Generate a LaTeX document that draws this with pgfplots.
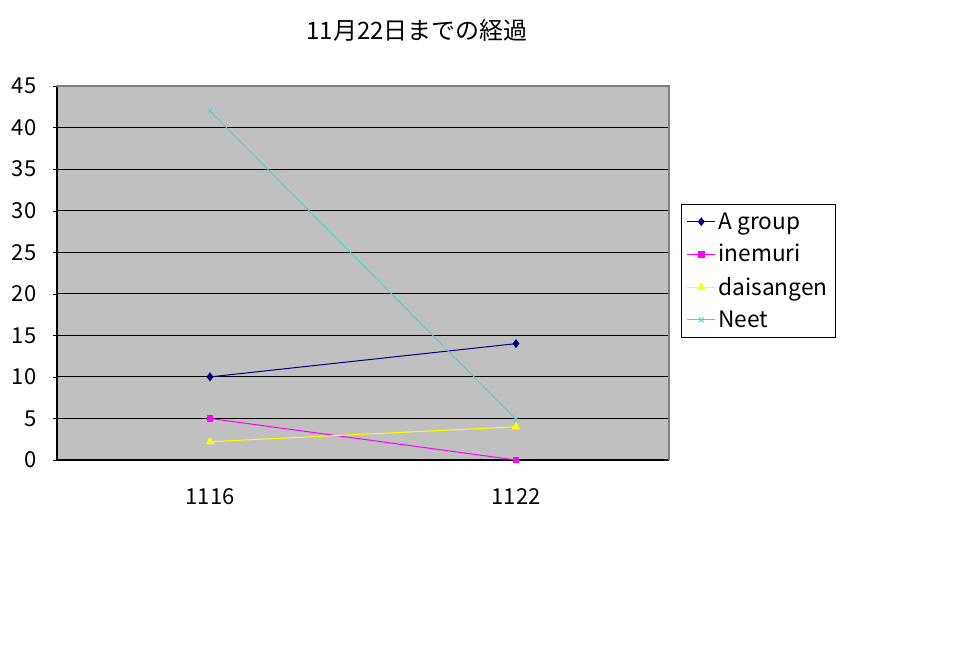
\documentclass[border=0pt]{standalone}
\usepackage{pgfplots}
\pgfplotsset{compat=1.18}
\usepackage{fontspec}
\setmainfont{Noto Sans CJK JP}

\definecolor{plotgray}{RGB}{192,192,192}
\definecolor{edgegray}{RGB}{128,128,128}
\definecolor{agroup}{RGB}{0,0,128}
\definecolor{inemuri}{RGB}{255,0,255}
\definecolor{daisangen}{RGB}{255,255,0}
\definecolor{neet}{RGB}{90,205,205}

\begin{document}
\begin{tikzpicture}
% page 962 x 654 px (1px = 0.75pt); axis box corner at px (57,460)
\fill[white] (-42.75pt,-145.5pt) rectangle (678.75pt,345pt);
\node[font=\fontsize{18}{20}\selectfont] at (270pt,322.5pt) {11月22日までの経過};

\begin{axis}[
    at={(0pt,0pt)}, anchor=south west,
    scale only axis,
    width=459pt, height=280.5pt,
    xmin=0, xmax=2,
    ymin=0, ymax=45,
    ytick={0,5,...,45},
    xtick={0.5,1.5},
    xticklabels={1116,1122},
    major x tick style={draw=none},
    extra x ticks={1,2},
    extra x tick labels={},
    extra x tick style={major tick length=5pt, tick align=inside,
        major tick style={draw=black}},
    ytick align=outside,
    major tick length=3pt,
    ymajorgrids,
    grid style={black, line width=0.75pt},
    axis x line*=bottom,
    axis y line*=left,
    axis line style={black, line width=0.8pt, -},
    axis background/.style={fill=plotgray},
    tick style={black},
    /pgf/number format/assume math mode=true,
    ticklabel style={font=\fontsize{16.5}{18}\selectfont},
    yticklabel style={xshift=-9pt},
    xticklabel style={yshift=-18pt},
    every axis plot/.append style={line width=0.75pt},
    legend image code/.code={%
        \draw[mark repeat=2,mark phase=2] plot coordinates {(0cm,0cm) (0.37cm,0cm) (0.74cm,0cm)};},
    legend style={at={(rel axis cs:1.0196,0.6845)}, anchor=north west,
        draw=black, line width=0.6pt, fill=white,
        font=\fontsize{17}{19}\selectfont,
        row sep=6pt, inner sep=4pt},
    legend cell align=left,
    clip=false,
]
\addplot[color=agroup, mark=diamond*, mark size=2.8pt] coordinates {(0.5,10) (1.5,14)};
\addlegendentry{A group}
\addplot[color=inemuri, mark=square*, mark size=2.2pt] coordinates {(0.5,5) (1.5,0)};
\addlegendentry{inemuri}
\addplot[color=daisangen, mark=triangle*, mark size=3pt] coordinates {(0.5,2.2) (1.5,4)};
\addlegendentry{daisangen}
\addplot[color=neet, mark=x, mark size=2.5pt] coordinates {(0.5,42) (1.5,4.9)};
\addlegendentry{Neet}
\draw[edgegray, line width=0.8pt] (rel axis cs:0,1) -- (rel axis cs:1,1) -- (rel axis cs:1,0);
\end{axis}
\end{tikzpicture}
\end{document}
